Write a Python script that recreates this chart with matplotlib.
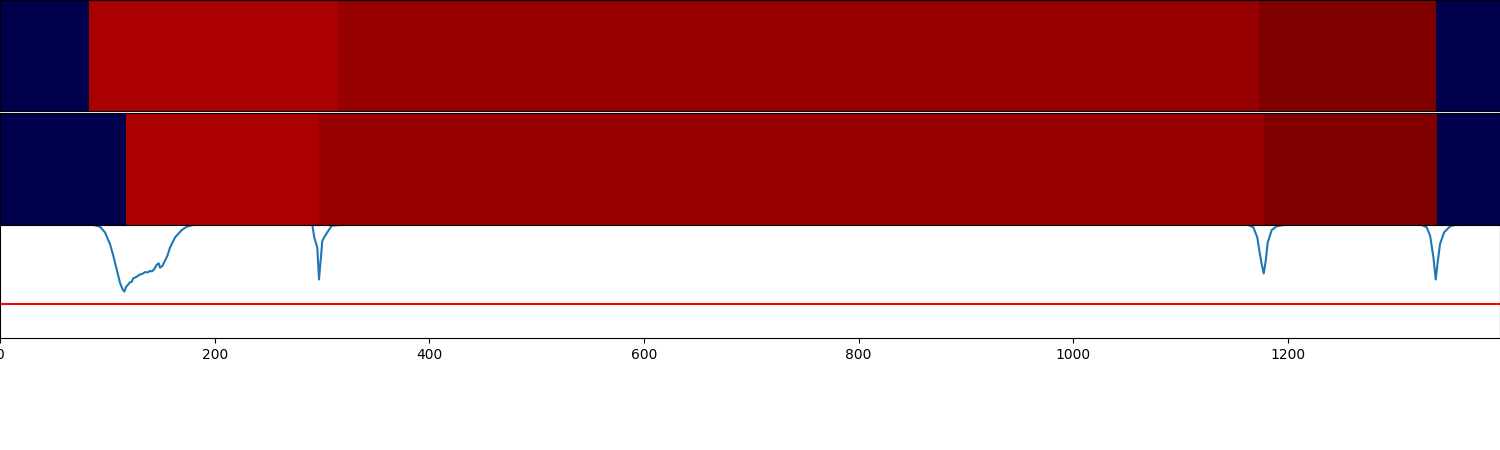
import matplotlib
matplotlib.use("Agg")
import matplotlib.pyplot as plt

row1_edges = [0, 83, 314.7, 1173, 1337.8, 1397.5]
row2_edges = [0, 117.2, 297.5, 1177.6, 1338.8, 1397.5]
band_levels = [0.0, 0.917, 0.955, 1.0, 0.0]

curve_x = [0, 60, 80, 87, 93.2, 97.8, 102.5, 105.6, 108.7, 111.8, 114.3, 115.8, 117.4, 118.6, 121.1, 122.6, 124.2,
           127.3, 130.4, 132.5, 135, 137.5, 139.8, 141.5, 143.5, 146, 147.9, 149.1, 151.2, 153.4, 155.9, 158.4, 163.1,
           169.3, 173.9, 180.1, 195, 285, 291, 292.8, 295.6, 297.2, 298.7, 300.3, 302.8, 305.9,
           309, 320, 1150, 1163.1, 1167.7, 1171.4, 1173.3, 1175.5, 1177.4, 1179.2, 1181.1,
           1184.8, 1189.4, 1195.7, 1210, 1310, 1324.6, 1329.2, 1332.4, 1335.5, 1337.6, 1339.2,
           1341.6, 1345.4, 1351, 1355.6, 1397.5]
curve_y = [0.3, 0.3, 0.3, 0, -1.7, -7.3, -19, -30.7, -44, -57.3, -64, -66, -61.5, -60, -56.7, -56.5, -52.8,
           -51.3, -49, -48.5, -46.7, -47, -45.5, -46, -44, -39.5, -38, -42.3, -40.7, -36, -30.7, -22.3, -12.3,
           -5, -1.7, 0, 0.3, 0.3, 0, -12.3, -22.3, -54, -35.7, -15.7, -10.7, -5.7,
           -0.7, 0.3, 0.3, 0, -2.3, -12.3, -25.7, -39, -48, -35.7, -17.3,
           -5, -1.3, 0, 0.3, 0.3, 0, -2.3, -10.7, -32.3, -54, -39,
           -19, -7.3, -1.3, 0, 0.3]
threshold = -78
x_ticks = [0, 200, 400, 600, 800, 1000, 1200]

fig = plt.figure(figsize=(15, 4.5), dpi=100)
H = 450.0
ax1 = fig.add_axes([0, 1 - 111.4 / H, 1, 111.4 / H])
ax2 = fig.add_axes([0, 1 - 225 / H, 1, 111.6 / H])
ax3 = fig.add_axes([0, 1 - 338 / H, 1, 113 / H])

for ax, edges in ((ax1, row1_edges), (ax2, row2_edges)):
    ax.pcolormesh(edges, [0, 1], [band_levels], cmap="seismic", vmin=0, vmax=1)
    ax.set_xlim(0, 1397.5)
    ax.set_xticks([])
    ax.set_yticks([])

ax3.plot(curve_x, curve_y)
ax3.axhline(threshold, color="red")
ax3.set_xlim(0, 1397.5)
ax3.set_ylim(-112, 0)
ax3.set_yticks([])
ax3.set_xticks(x_ticks)

fig.savefig("out.png", dpi=100)
